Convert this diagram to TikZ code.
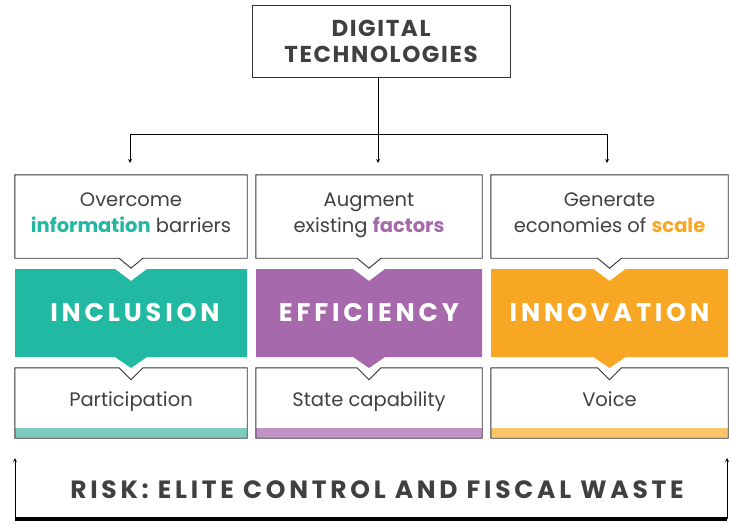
\documentclass[tikz,border=0pt]{standalone}
\usepackage{fontspec}
\setmainfont{Poppins}
\newfontfamily\capsfont[LetterSpace=15]{Poppins}
\newfontfamily\headfont[LetterSpace=7]{Poppins}
\usetikzlibrary{positioning}

\definecolor{txtgray}{RGB}{64,64,64}
\definecolor{linegray}{RGB}{50,50,50}
\definecolor{incl}{RGB}{33,185,161}
\definecolor{effi}{RGB}{166,106,172}
\definecolor{inno}{RGB}{248,167,36}
\definecolor{incllight}{RGB}{128,203,191}
\definecolor{effilight}{RGB}{194,145,198}
\definecolor{innolight}{RGB}{252,196,105}

\begin{document}
\begin{tikzpicture}[
	    x=1pt, y=-1pt,
	    >=stealth,
	    every node/.style={inner sep=0pt, text=txtgray},
	    frame/.style={draw=none, minimum height=83},
	    band/.style={minimum height=88, text=white, font=\capsfont\bfseries\fontsize{25.5}{25}\selectfont},
	    outbox/.style={minimum height=70, text height=14, text depth=8, font=\fontsize{19.5}{22}\selectfont},
	    factor/.style={align=center, text depth=7, font=\fontsize{19.5}{26}\selectfont},
	    outline/.style={draw=linegray, line width=0.9pt},
	    arrow/.style={->, line width=0.8pt}
	]
		\useasboundingbox (0,0) rectangle (730,524);

		% heading
		\node[outline, minimum width=258, minimum height=72, align=center,
		      font=\headfont\bfseries\fontsize{23}{26}\selectfont] (dt) at (381,41) {DIGITAL\\TECHNOLOGIES};

		\coordinate (hub) at (378,134);
		\coordinate (a1) at (130,163);
		\coordinate (a2) at (378,163);
		\coordinate (a3) at (607,163);

		\draw[arrow] (hub |- dt.south) -- (a2);
		\draw[line width=0.8pt] (a1 |- hub) -- (a3 |- hub);
		\draw[arrow] (a1 |- hub) -- (a1);
		\draw[arrow] (a3 |- hub) -- (a3);

		% factors
		\node[frame, factor, minimum width=232] (f1) at (131,216.5) {Overcome\\\textcolor{incl}{\bfseries information} barriers};
		\node[frame, factor, minimum width=226] (f2) at (369,216.5) {Augment\\existing \textcolor{effi}{\bfseries factors}};
		\node[frame, factor, minimum width=237] (f3) at (609.5,216.5) {Generate\\economies of \textcolor{inno}{\bfseries scale}};

		\draw[outline] (f1.north west) -- (f1.north east) -- (f1.south east) -- ([xshift=12pt]f1.south) -- ([yshift=-10pt]f1.south) -- ([xshift=-12pt]f1.south) -- (f1.south west) -- cycle;
		\draw[outline] (f2.north west) -- (f2.north east) -- (f2.south east) -- ([xshift=12pt]f2.south) -- ([yshift=-10pt]f2.south) -- ([xshift=-12pt]f2.south) -- (f2.south west) -- cycle;
		\draw[outline] (f3.north west) -- (f3.north east) -- (f3.south east) -- ([xshift=12pt]f3.south) -- ([yshift=-10pt]f3.south) -- ([xshift=-12pt]f3.south) -- (f3.south west) -- cycle;

		% pillars
		\fill[incl] (15,269) -- (115,269) -- (131,281) -- (147,269) -- (247,269) -- (247,357) -- (147,357) -- (131,368) -- (115,357) -- (15,357) -- cycle;
		\fill[effi] (256,269) -- (353,269) -- (369,281) -- (385,269) -- (482,269) -- (482,357) -- (385,357) -- (369,368) -- (353,357) -- (256,357) -- cycle;
		\fill[inno] (491,269) -- (593.5,269) -- (609.5,281) -- (625.5,269) -- (728,269) -- (728,357) -- (625.5,357) -- (609.5,368) -- (593.5,357) -- (491,357) -- cycle;

		\node[band, minimum width=232] (p1) at (135,313) {INCLUSION};
		\node[band, minimum width=226] (p2) at (369,313) {EFFICIENCY};
		\node[band, minimum width=237] (p3) at (609.5,313) {INNOVATION};

		% outcomes
		\node[outbox, minimum width=232] (o1) at (131,403) {Participation};
		\node[outbox, minimum width=226] (o2) at (369,403) {State capability};
		\node[outbox, minimum width=237] (o3) at (609.5,403) {Voice};

		\fill[incllight] ([yshift=10pt]o1.south west) rectangle (o1.south east);
		\fill[effilight] ([yshift=10pt]o2.south west) rectangle (o2.south east);
		\fill[innolight] ([yshift=10pt]o3.south west) rectangle (o3.south east);

		\draw[outline] (o1.north west) -- ([xshift=-12pt]o1.north) -- ([yshift=-12pt]o1.north) -- ([xshift=12pt]o1.north) -- (o1.north east) -- (o1.south east) -- (o1.south west) -- cycle;
		\draw[outline] (o2.north west) -- ([xshift=-12pt]o2.north) -- ([yshift=-12pt]o2.north) -- ([xshift=12pt]o2.north) -- (o2.north east) -- (o2.south east) -- (o2.south west) -- cycle;
		\draw[outline] (o3.north west) -- ([xshift=-12pt]o3.north) -- ([yshift=-12pt]o3.north) -- ([xshift=12pt]o3.north) -- (o3.north east) -- (o3.south east) -- (o3.south west) -- cycle;

		% risk
		\node[font=\capsfont\bfseries\fontsize{25}{25}\selectfont] (risk) at (377,490) {RISK: ELITE CONTROL AND FISCAL WASTE};

		\coordinate (rl) at (15,458);
		\coordinate (rr) at (727,458);
		\coordinate (bl) at (15,519);
		\coordinate (br) at (727,519);

		\draw[arrow] (bl) -- (rl);
		\draw[arrow] (br) -- (rr);
		\draw[line width=4.5pt] (bl) -- (br);
	\end{tikzpicture}
\end{document}
